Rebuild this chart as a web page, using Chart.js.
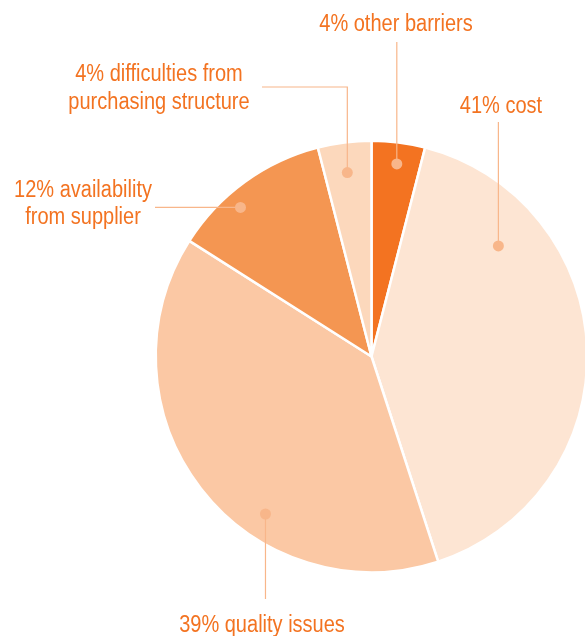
<!DOCTYPE html>
<html>
<head>
<meta charset="utf-8">
<style>
  html, body { margin: 0; padding: 0; background: #fff; overflow: hidden; }
  #wrap { width: 585px; height: 636px; position: relative; overflow: hidden; }
</style>
<script src="https://cdn.jsdelivr.net/npm/chart.js@4.4.1/dist/chart.umd.min.js"></script>
</head>
<body>
<div id="wrap"><canvas id="pieChart" width="590" height="636"></canvas></div>
<script>
'use strict';

// ---------------------------------------------------------------------------
// DATA
// ---------------------------------------------------------------------------
const categories = [
    'other barriers',
    'cost',
    'quality issues',
    'availability from supplier',
    'difficulties from purchasing structure'
];
const shares = [4, 41, 39, 12, 4];
const labelLines = [
    ['4% other barriers'],
    ['41% cost'],
    ['39% quality issues'],
    ['12% availability', 'from supplier'],
    ['4% difficulties from', 'purchasing structure']
];
const sliceColors = ['#F37321', '#FDE5D3', '#FBC8A4', '#F49652', '#FCD8BC'];

// Leader layout: where in the slice the dot sits (fraction of sweep, fraction of radius),
// the leader path, and where the text goes.
const leaderLayout = [
    { t: 0.52, r: 0.90, path: [['v', 42]], text: { x: 396, y: 31, lh: 28 } },
    { t: 0.234, r: 0.78, path: [['v', 122]], text: { x: 501, y: 113, lh: 28 } },
    { t: 0.37, r: 0.88, path: [['v', 599]], text: { x: 262, y: 632, lh: 28 } },
    { t: 0.377, r: 0.92, path: [['h', 155]], text: { x: 83, y: 197, lh: 27 } },
    { t: 0.48, r: 0.86, path: [['v', 87], ['h', 262]], text: { x: 159, y: 81, lh: 28 } }
];

const TEXT_COLOR = '#F37321';
const LEADER_COLOR = '#F8B68A';
const FONT = '23px "Liberation Sans", Arial, sans-serif';
const TEXT_SQUEEZE = 0.87; // condensed look

// ---------------------------------------------------------------------------
// LEADER PLUGIN
// ---------------------------------------------------------------------------
const leaderLabels = {
    id: 'leaderLabels',
    afterDatasetsDraw(chart) {
        const ctx = chart.ctx;
        const arcs = chart.getDatasetMeta(0).data;
        ctx.save();
        arcs.forEach((arc, i) => {
            const cfg = leaderLayout[i];
            const p = arc.getProps(['x', 'y', 'startAngle', 'endAngle', 'outerRadius'], true);
            const ang = p.startAngle + cfg.t * (p.endAngle - p.startAngle);
            const dx = p.x + Math.cos(ang) * p.outerRadius * cfg.r;
            const dy = p.y + Math.sin(ang) * p.outerRadius * cfg.r;

            // leader line
            ctx.strokeStyle = LEADER_COLOR;
            ctx.lineWidth = 1.2;
            ctx.beginPath();
            ctx.moveTo(dx, dy);
            let cx = dx, cy = dy;
            cfg.path.forEach(([dir, v]) => {
                if (dir === 'v') cy = v; else cx = v;
                ctx.lineTo(cx, cy);
            });
            ctx.stroke();

            // dot
            ctx.fillStyle = LEADER_COLOR;
            ctx.beginPath();
            ctx.arc(dx, dy, 5.5, 0, Math.PI * 2);
            ctx.fill();

            // text (horizontally squeezed)
            ctx.fillStyle = TEXT_COLOR;
            ctx.font = FONT;
            ctx.textAlign = 'center';
            ctx.textBaseline = 'alphabetic';
            labelLines[i].forEach((line, k) => {
                ctx.save();
                ctx.translate(cfg.text.x, cfg.text.y + k * cfg.text.lh);
                ctx.scale(TEXT_SQUEEZE, 1);
                ctx.fillText(line, 0, 0);
                ctx.restore();
            });
        });
        ctx.restore();
    }
};

// ---------------------------------------------------------------------------
// CHART
// ---------------------------------------------------------------------------
new Chart(document.getElementById('pieChart').getContext('2d'), {
    type: 'pie',
    data: {
        labels: categories,
        datasets: [{
            data: shares,
            backgroundColor: sliceColors,
            borderColor: '#ffffff',
            borderWidth: 2.5
        }]
    },
    options: {
        responsive: false,
        animation: false,
        layout: { padding: { left: 154.5, right: 1.5, top: 139.5, bottom: 62.5 } },
        plugins: {
            legend: { display: false },
            tooltip: { enabled: false }
        }
    },
    plugins: [leaderLabels]
});
</script>
</body>
</html>
